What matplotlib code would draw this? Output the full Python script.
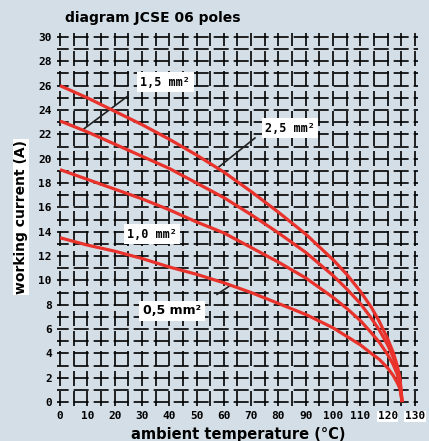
import matplotlib
matplotlib.use('Agg')
import matplotlib.pyplot as plt
import numpy as np

# data
temp = [0, 10, 20, 30, 40, 50, 60, 70, 80, 90, 100, 105, 110, 114, 117, 120, 122, 123.5, 124.5, 125.3]
cur_25 = [26.0, 25.0, 23.9, 22.8, 21.6, 20.3, 18.9, 17.3, 15.6, 13.8, 11.7, 10.5, 9.1, 7.8, 6.6, 5.2, 4.1, 3.0, 2.0, 0.0]
cur_15 = [23.1, 22.2, 21.2, 20.2, 19.2, 18.0, 16.8, 15.4, 13.9, 12.3, 10.4, 9.3, 8.1, 6.9, 5.9, 4.7, 3.7, 2.7, 1.8, 0.0]
cur_10 = [19.1, 18.3, 17.5, 16.7, 15.8, 14.8, 13.9, 12.7, 11.5, 10.2, 8.6, 7.7, 6.7, 5.7, 4.9, 3.9, 3.1, 2.3, 1.5, 0.0]
cur_05 = [13.5, 12.9, 12.4, 11.8, 11.1, 10.5, 9.8, 9.0, 8.1, 7.2, 6.1, 5.4, 4.7, 4.0, 3.5, 2.8, 2.2, 1.6, 1.1, 0.0]

x_ticks = list(range(0, 131, 10))
y_ticks = list(range(0, 31, 2))

bg = '#d3dee6'
red = '#e8322b'

fig = plt.figure(figsize=(4.29, 4.41), dpi=100)
fig.patch.set_facecolor(bg)
ax = fig.add_axes([0.1336, 0.080, 0.840, 0.8444])
ax.set_facecolor(bg)
ax.set_xlim(-1, 131)
ax.set_ylim(-0.3, 30.3)
for s in ax.spines.values():
    s.set_visible(False)

# the blocky grid
gx = np.arange(0, 131, 5)
gy = np.arange(0, 30.5, 1)
ax.vlines(gx, -0.3, 30.3, colors='black', linewidth=1.2, linestyles=(0, (9, 3)), zorder=1)
ax.hlines(gy, -1, 131, colors='black', linewidth=1.2, linestyles=(2, (9, 3)), zorder=1)

# leader lines
ax.plot([24.9, 8.8], [25.16, 22.46], color='#222222', lw=1.2, zorder=2)
ax.plot([71.4, 57.5], [21.7, 19.2], color='#222222', lw=1.2, zorder=2)
ax.plot([57.5, 62.3], [8.85, 9.57], color='#222222', lw=1.2, zorder=2)

for c in [cur_25, cur_15, cur_10, cur_05]:
    ax.plot(temp, c, color=red, lw=2.3, zorder=3, solid_capstyle='butt',
            solid_joinstyle='round')

mono = 'DejaVu Sans Mono'
box = dict(facecolor='white', edgecolor='none', pad=2.5)
ax.text(38.5, 26.3, '1,5 mm²', family=mono, weight='bold', fontsize=8.5,
        ha='center', va='center', bbox=box, zorder=4)
ax.text(84.2, 22.5, '2,5 mm²', family=mono, weight='bold', fontsize=8.5,
        ha='center', va='center', bbox=box, zorder=4)
ax.text(33.7, 13.8, '1,0 mm²', family=mono, weight='bold', fontsize=8.5,
        ha='center', va='center', bbox=box, zorder=4)
ax.text(41.0, 7.5, '0,5 mm²', family='DejaVu Sans', weight='bold', fontsize=9,
        ha='center', va='center', bbox=box, zorder=4)

ax.set_xticks(x_ticks)
ax.set_yticks(y_ticks)
ax.tick_params(length=0, labelsize=8, pad=4)
for lab in ax.get_xticklabels() + ax.get_yticklabels():
    lab.set_family(mono)
    lab.set_weight('bold')
for lab in ax.get_xticklabels()[-2:]:
    lab.set_bbox(dict(facecolor='white', edgecolor='none', pad=0.5))

fig.text(65 / 429, 1 - 18 / 441, 'diagram JCSE 06 poles', fontsize=10, weight='bold',
         ha='left', va='center')
fig.text(238 / 429, 1 - 434 / 441, 'ambient temperature (°C)', fontsize=10.5, weight='bold',
         ha='center', va='center')
fig.text(21 / 429, 1 - 217 / 441, 'working current (A)', fontsize=10, weight='bold',
         rotation=90, ha='center', va='center',
         bbox=dict(facecolor='white', edgecolor='none', pad=1))

fig.savefig('out.png', dpi=100, facecolor=bg)
